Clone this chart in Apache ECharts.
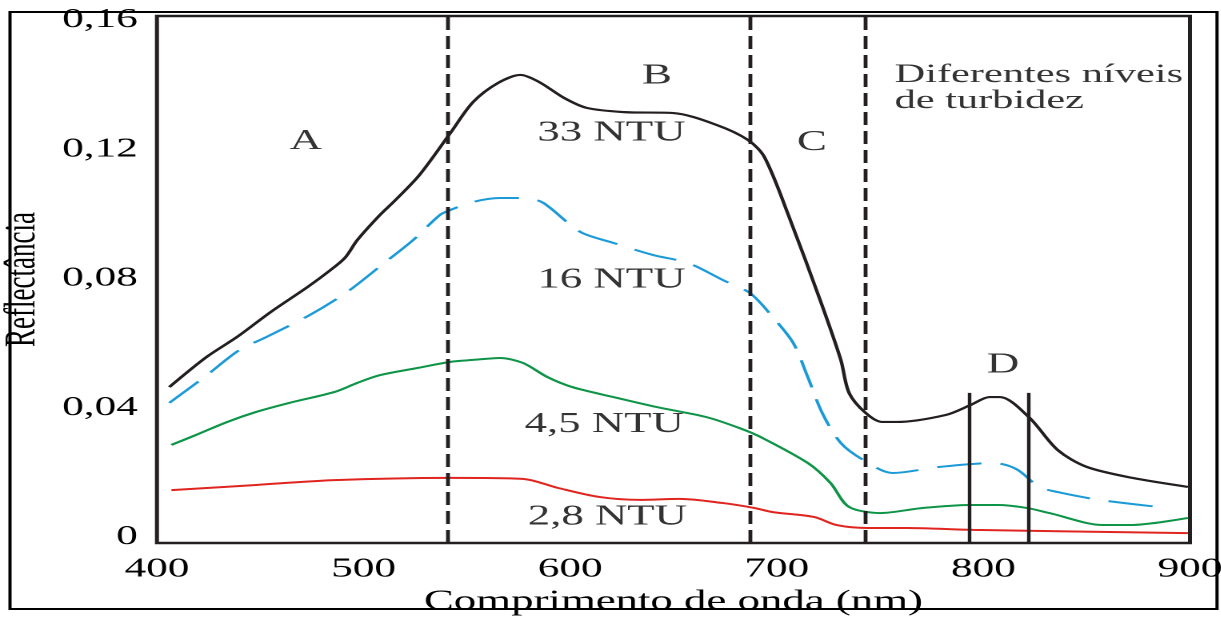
<!DOCTYPE html>
<html>
<head>
<meta charset="utf-8">
<script src="https://cdn.jsdelivr.net/npm/echarts@6/dist/echarts.min.js"></script>
<style>
  html, body { margin: 0; padding: 0; background: #fff; overflow: hidden; }
  /* the source figure is stretched sideways, so the chart is drawn narrow and widened */
  #chart { width: 763px; height: 619px; transform: scaleX(1.6); transform-origin: 0 0; }
</style>
</head>
<body>
<div id="chart"></div>
<script>
// wavelength (nm) / reflectance
const wl33 = [406, 424, 439, 455, 473, 484, 491, 497, 508, 515, 527, 542, 553, 565, 576, 585, 597, 608, 626, 650, 671, 686, 694, 706, 721, 731, 735, 743, 751, 758, 782, 794, 803, 808, 822, 836, 850, 872, 899]
const r33 = [0.0464, 0.0557, 0.062, 0.0696, 0.0774, 0.0826, 0.0864, 0.0919, 0.0997, 0.104, 0.112, 0.125, 0.1346, 0.1405, 0.143, 0.1408, 0.1359, 0.1328, 0.1315, 0.1312, 0.1275, 0.1229, 0.1176, 0.099, 0.0733, 0.0548, 0.0446, 0.0384, 0.0356, 0.0356, 0.0378, 0.0409, 0.0433, 0.0433, 0.0371, 0.0269, 0.0217, 0.0183, 0.0155]

const wl16 = [406, 423, 440, 453, 474, 492, 510, 524, 537, 542, 553, 566, 579, 587, 605, 621, 640, 657, 674, 687, 698, 708, 715, 722, 731, 742, 756, 779, 805, 816, 827, 836, 856, 889]
const r16 = [0.0415, 0.0495, 0.0579, 0.0619, 0.0687, 0.0758, 0.0848, 0.0919, 0.0997, 0.1012, 0.1037, 0.1049, 0.1049, 0.1034, 0.0944, 0.091, 0.0873, 0.0848, 0.0795, 0.0755, 0.0681, 0.06, 0.0495, 0.0384, 0.0291, 0.0238, 0.0198, 0.0217, 0.0229, 0.021, 0.0155, 0.0139, 0.0115, 0.009]

const wl45 = [407, 419, 434, 448, 464, 486, 497, 508, 526, 542, 553, 566, 577, 589, 601, 621, 642, 666, 682, 692, 715, 726, 735, 750, 771, 794, 807, 821, 832, 858, 871, 899]
const r45 = [0.0285, 0.0316, 0.0356, 0.0387, 0.0415, 0.0449, 0.0477, 0.0501, 0.0523, 0.0542, 0.0548, 0.0554, 0.0539, 0.0495, 0.0464, 0.0433, 0.0402, 0.0371, 0.0337, 0.031, 0.0229, 0.0167, 0.0093, 0.0074, 0.009, 0.0099, 0.0099, 0.009, 0.0074, 0.0037, 0.0037, 0.0059]

const wl28 = [407, 448, 486, 542, 577, 594, 614, 634, 653, 674, 689, 698, 718, 729, 744, 763, 795, 899]
const r28 = [0.0145, 0.0161, 0.0176, 0.0183, 0.018, 0.0152, 0.0124, 0.0115, 0.0118, 0.0105, 0.009, 0.0077, 0.0062, 0.0037, 0.0028, 0.0028, 0.0022, 0.0012]

const xTicks = [400, 500, 600, 700, 800, 900]
const yTicks = [0, 0.04, 0.08, 0.12, 0.16]

// region borders (dashed) and the band D around 800 nm
const regionLines = [541, 687, 743]
const bandD = [793.5, 822]
const bandTop = 0.0446

// text placed in data units
const notes = [
  [472, 0.1223, 'A'],
  [642, 0.1427, 'B'],
  [717, 0.122, 'C'],
  [809.5, 0.0532, 'D'],
  [620, 0.125, '33 NTU'],
  [620, 0.0795, '16 NTU'],
  [616.5, 0.0347, '4,5 NTU'],
  [618, 0.0062, '2,8 NTU']
]
const noteRight = [757, 0.139, 'Diferentes níveis\nde turbidez']

const yMin = -0.00186
const yMax = 0.16124

const ink = '#231f20'
const textInk = '#000'
const font = 'Liberation Serif'

const zip = (xs, ys) => xs.map((x, i) => [x, ys[i]])

const chart = echarts.init(document.getElementById('chart'), null, { devicePixelRatio: 2 })

const lineSeries = (name, xs, ys, color, width, type) => ({
  name: name,
  type: 'line',
  data: zip(xs, ys),
  smooth: 0.3,
  symbol: 'none',
  silent: true,
  lineStyle: { color: color, width: width, type: type || 'solid' }
})

const black = lineSeries('33 NTU', wl33, r33, ink, 2.2)
black.markLine = {
  silent: true,
  symbol: 'none',
  label: { show: false },
  data: regionLines.map(x => ({ xAxis: x, lineStyle: { color: ink, width: 2.4, type: [13, 6] } }))
    .concat(bandD.map(x => [
      { coord: [x, yMin], lineStyle: { color: ink, width: 2.2, type: 'solid' } },
      { coord: [x, bandTop] }
    ]))
}

chart.setOption({
  animation: false,
  backgroundColor: '#fff',
  textStyle: { fontFamily: font, color: textInk },
  graphic: [{
    type: 'rect',
    shape: { x: 6.25, y: 12, width: 754.4, height: 597 },
    style: { fill: null, stroke: '#000', lineWidth: 2 },
    silent: true
  }],
  grid: {
    left: 98.1, right: 19.25, top: 16, bottom: 76,
    outerBoundsMode: 'none',
    show: true, borderColor: ink, borderWidth: 2.5, backgroundColor: 'transparent'
  },
  xAxis: {
    type: 'value',
    min: 400, max: 900, interval: 100,
    name: 'Comprimento de onda (nm)',
    nameLocation: 'middle',
    nameGap: 45,
    nameTextStyle: { fontFamily: font, fontSize: 28, color: textInk },
    axisLine: { show: false },
    axisTick: { show: false },
    splitLine: { show: false },
    axisLabel: {
      margin: 13, fontFamily: font, fontSize: 27, color: textInk,
      customValues: xTicks,
      formatter: v => String(v)
    }
  },
  yAxis: {
    type: 'value',
    min: yMin, max: yMax,
    name: 'Reflectância',
    nameLocation: 'middle',
    nameRotate: 90,
    nameGap: 68,
    nameTextStyle: { fontFamily: font, fontSize: 27, color: textInk },
    axisLine: { show: false },
    axisTick: { show: false },
    splitLine: { show: false },
    axisLabel: {
      margin: 12, fontFamily: font, fontSize: 27, color: textInk,
      customValues: yTicks,
      formatter: v => v === 0 ? '0' : v.toFixed(2).replace('.', ',')
    }
  },
  series: [
    black,
    lineSeries('16 NTU', wl16, r16, '#1b9ad8', 2, [28, 12]),
    lineSeries('4,5 NTU', wl45, r45, '#0e9447', 2),
    lineSeries('2,8 NTU', wl28, r28, '#e0241f', 2),
    {
      type: 'scatter',
      silent: true,
      symbolSize: 0,
      data: notes.map(n => ({ value: n })),
      label: {
        show: true, position: 'inside',
        formatter: p => p.value[2],
        fontFamily: font, fontSize: 28, color: textInk
      }
    },
    {
      type: 'scatter',
      silent: true,
      symbolSize: 0,
      data: [{ value: noteRight }],
      label: {
        show: true, position: 'right', distance: 0,
        align: 'left', lineHeight: 26,
        formatter: p => p.value[2],
        fontFamily: font, fontSize: 26.5, color: textInk
      }
    }
  ]
})
</script>
</body>
</html>
